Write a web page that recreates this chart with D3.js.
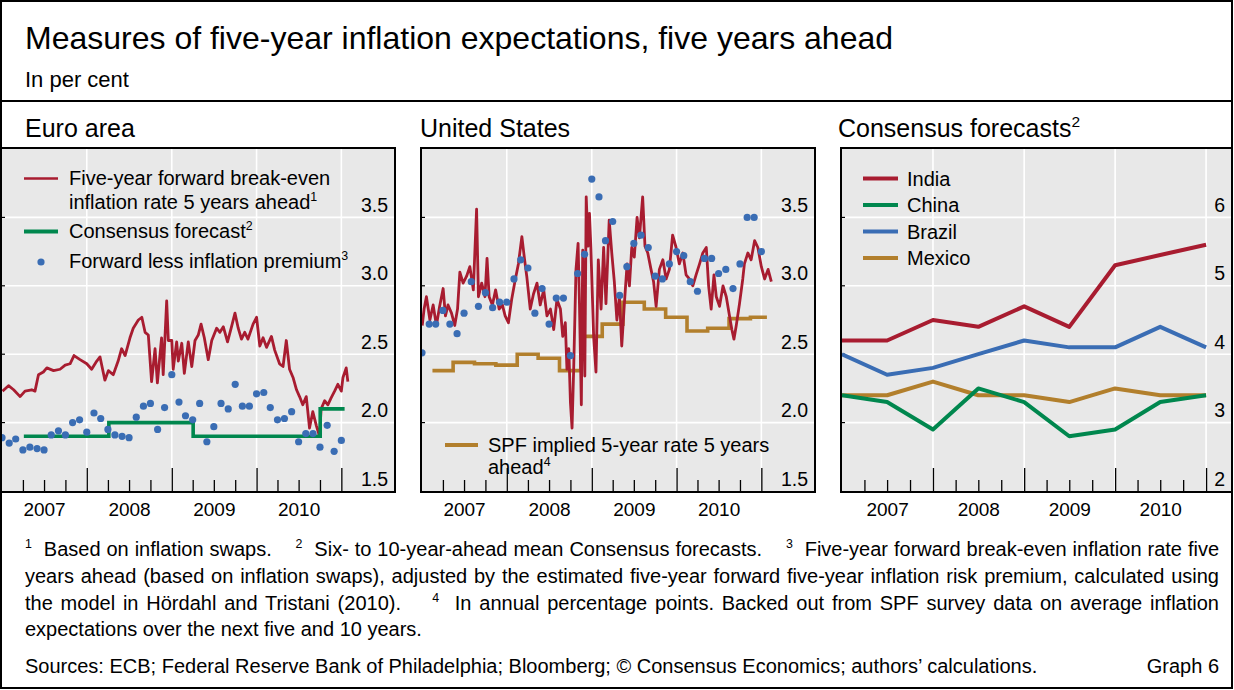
<!DOCTYPE html>
<html>
<head>
<meta charset="utf-8">
<script src="https://cdn.jsdelivr.net/npm/d3@7"></script>
<style>
  body { margin: 0; background: #fff; }
  svg { display: block; font-family: "Liberation Sans", Arial, Helvetica, sans-serif; }
</style>
</head>
<body>
<div id="chart"></div>
<script>
// ---- data ----
// Euro area: five-year forward break-even rate 5 years ahead (sampled)
const euroBreakeven = [
  ["2007-01-03",2.23],["2007-01-29",2.27],["2007-02-20",2.24],["2007-03-20",2.19],["2007-04-10",2.23],
  ["2007-05-09",2.24],["2007-05-23",2.23],["2007-06-07",2.35],["2007-06-28",2.37],["2007-07-13",2.40],
  ["2007-08-11",2.38],["2007-09-08",2.39],["2007-09-30",2.42],["2007-10-21",2.43],["2007-11-07",2.49],
  ["2007-12-03",2.46],["2008-01-01",2.43],["2008-01-22",2.39],["2008-02-13",2.45],["2008-02-27",2.48],
  ["2008-03-19",2.31],["2008-04-03",2.38],["2008-04-24",2.35],["2008-05-15",2.45],["2008-05-30",2.54],
  ["2008-06-14",2.49],["2008-07-05",2.62],["2008-07-19",2.69],["2008-08-10",2.75],["2008-08-25",2.77],
  ["2008-09-08",2.66],["2008-09-22",2.64],["2008-10-06",2.30],["2008-10-21",2.54],["2008-10-31",2.29],
  ["2008-11-18",2.62],["2008-11-25",2.35],["2008-12-10",2.89],["2008-12-17",2.60],["2009-01-01",2.60],
  ["2009-01-07",2.39],["2009-01-22",2.59],["2009-01-29",2.45],["2009-02-13",2.58],["2009-02-24",2.36],
  ["2009-03-13",2.59],["2009-03-28",2.41],["2009-04-11",2.60],["2009-04-25",2.64],["2009-05-07",2.72],
  ["2009-05-21",2.62],["2009-06-07",2.46],["2009-06-22",2.60],["2009-07-13",2.69],["2009-07-27",2.66],
  ["2009-08-11",2.70],["2009-08-29",2.59],["2009-09-15",2.70],["2009-09-30",2.80],["2009-10-14",2.69],
  ["2009-10-28",2.61],["2009-11-11",2.66],["2009-11-25",2.61],["2009-12-17",2.72],["2010-01-01",2.77],
  ["2010-01-15",2.56],["2010-01-29",2.62],["2010-02-13",2.55],["2010-03-06",2.63],["2010-03-20",2.53],
  ["2010-04-10",2.43],["2010-04-25",2.41],["2010-05-09",2.60],["2010-05-23",2.39],["2010-06-07",2.33],
  ["2010-06-22",2.24],["2010-07-05",2.19],["2010-07-19",2.13],["2010-08-03",2.19],["2010-08-17",1.96],
  ["2010-08-31",2.08],["2010-09-15",1.98],["2010-09-29",1.90],["2010-10-06",2.10],["2010-10-21",2.16],
  ["2010-11-04",2.13],["2010-11-18",2.18],["2010-12-03",2.23],["2010-12-17",2.28],["2011-01-01",2.23],
  ["2011-01-08",2.33],["2011-01-22",2.40],["2011-01-29",2.30]
];
// Euro area: Consensus forecast (step, April / October)
const euroConsensus = [
  ["2007-04-05",1.90],["2007-10-01",1.90],["2008-04-05",2.00],["2008-10-01",2.00],["2009-04-03",1.90],
  ["2009-10-01",1.90],["2010-04-01",1.90],["2010-10-02",2.10],["2011-01-15",2.10]
];
// Euro area: forward less inflation premium, monthly from Jan 2007
const euroPremium = [
  1.89,1.85,1.88,1.80,1.82,1.81,1.80,1.91,1.94,1.91,2.00,2.02,
  1.93,2.07,2.03,1.95,1.91,1.90,1.89,2.04,2.12,2.14,1.95,2.11,
  2.35,2.15,2.05,2.02,2.14,1.86,1.97,2.14,2.10,2.28,2.12,2.12,
  2.21,2.22,2.11,2.02,2.03,2.08,1.86,1.92,1.92,1.82,1.98,1.79,1.87
];

// United States: five-year forward break-even rate 5 years ahead (sampled)
const usBreakeven = [
  ["2007-01-02",2.71],["2007-01-10",2.83],["2007-01-20",2.92],["2007-02-04",2.75],["2007-02-18",2.86],
  ["2007-03-04",2.71],["2007-03-18",2.85],["2007-04-02",2.98],["2007-04-12",2.78],["2007-04-23",2.86],
  ["2007-05-08",2.80],["2007-05-22",2.71],["2007-06-03",2.83],["2007-06-13",3.10],["2007-06-27",3.02],
  ["2007-07-12",3.07],["2007-07-26",3.14],["2007-08-10",2.97],["2007-08-24",3.56],["2007-09-01",2.92],
  ["2007-09-15",3.02],["2007-09-29",2.92],["2007-10-08",3.20],["2007-10-17",2.92],["2007-10-31",2.86],
  ["2007-11-14",2.97],["2007-11-29",2.83],["2007-12-13",2.86],["2007-12-25",2.78],["2008-01-08",2.73],
  ["2008-01-22",2.90],["2008-02-06",3.04],["2008-02-20",3.16],["2008-03-06",3.36],["2008-03-17",3.20],
  ["2008-03-27",3.07],["2008-04-11",2.83],["2008-04-25",2.94],["2008-05-10",3.02],["2008-05-24",2.86],
  ["2008-06-08",2.97],["2008-06-22",2.78],["2008-07-07",2.83],["2008-07-21",2.68],["2008-08-04",2.90],
  ["2008-08-19",2.83],["2008-08-29",2.63],["2008-09-09",2.73],["2008-09-16",2.39],["2008-09-24",2.54],
  ["2008-10-01",2.15],["2008-10-08",1.96],["2008-10-15",2.39],["2008-10-25",3.12],["2008-11-03",3.31],
  ["2008-11-09",2.86],["2008-11-17",2.13],["2008-11-23",3.26],["2008-12-02",2.34],["2008-12-08",3.65],
  ["2008-12-16",3.29],["2008-12-22",3.53],["2008-12-28",3.28],["2009-01-09",2.63],["2009-01-19",2.37],
  ["2009-01-29",3.19],["2009-02-10",2.83],["2009-02-21",3.28],["2009-03-03",2.87],["2009-03-17",3.48],
  ["2009-03-28",3.24],["2009-04-08",3.03],["2009-04-19",2.75],["2009-04-30",2.92],["2009-05-10",2.56],
  ["2009-05-21",2.86],["2009-06-02",3.16],["2009-06-12",3.00],["2009-06-22",3.28],["2009-07-03",3.21],
  ["2009-07-15",3.50],["2009-07-25",3.35],["2009-08-08",3.65],["2009-08-18",3.29],["2009-08-30",3.24],
  ["2009-09-13",3.12],["2009-09-24",3.03],["2009-10-05",2.85],["2009-10-19",3.12],["2009-11-03",3.19],
  ["2009-11-17",3.05],["2009-12-01",3.12],["2009-12-15",3.37],["2009-12-30",3.28],["2010-01-13",3.16],
  ["2010-01-28",3.24],["2010-02-11",3.08],["2010-02-25",3.05],["2010-03-12",3.00],["2010-03-26",3.08],
  ["2010-04-10",3.16],["2010-04-24",3.24],["2010-05-09",3.28],["2010-05-19",3.00],["2010-05-30",2.83],
  ["2010-06-11",3.08],["2010-06-21",2.92],["2010-07-05",2.85],["2010-07-20",3.00],["2010-08-03",2.92],
  ["2010-08-17",2.78],["2010-08-27",2.68],["2010-09-05",2.61],["2010-09-15",2.71],["2010-09-29",2.87],
  ["2010-10-13",3.05],["2010-10-20",3.16],["2010-11-04",3.24],["2010-11-18",3.19],["2010-12-03",3.33],
  ["2010-12-17",3.28],["2011-01-01",3.14],["2011-01-15",3.05],["2011-01-30",3.12],["2011-02-13",3.03]
];
// United States: SPF implied 5-year rate 5 years ahead (quarterly step)
const usSPF = [
  ["2007-02-15",2.38],["2007-05-15",2.44],["2007-08-15",2.43],["2007-11-15",2.42],
  ["2008-02-15",2.50],["2008-05-15",2.47],["2008-08-15",2.38],["2008-11-15",2.63],
  ["2009-02-15",2.72],["2009-05-15",2.88],["2009-08-15",2.83],["2009-11-15",2.77],
  ["2010-02-15",2.67],["2010-05-15",2.69],["2010-08-15",2.76],["2010-11-15",2.77],["2011-01-25",2.77]
];
// United States: forward less inflation premium, monthly from Jan 2007
const usPremium = [
  2.51,2.72,2.72,2.82,2.72,2.65,2.80,3.03,2.85,2.95,2.84,2.88,
  2.88,3.05,3.19,3.13,2.80,2.98,2.72,2.91,2.91,2.49,3.09,3.23,
  3.78,3.65,3.33,3.47,2.93,3.14,3.31,3.37,3.28,3.07,3.05,3.16,
  3.25,3.22,3.03,2.96,3.20,3.20,3.09,3.12,2.98,3.16,3.50,3.50,3.25
];
const premiumStart = "2007-01-01";

// Consensus forecasts (semi-annual)
const cfDates  = ["2007-01-01","2007-07-01","2008-01-01","2008-07-01","2009-01-01","2009-07-01","2010-01-01","2010-07-01","2011-01-01"];
const cfIndia  = [4.2, 4.2, 4.5, 4.4, 4.7, 4.4, 5.3, 5.45, 5.6];
const cfChina  = [3.4, 3.3, 2.9, 3.5, 3.3, 2.8, 2.9, 3.3, 3.4];
const cfBrazil = [4.0, 3.7, 3.8, 4.0, 4.2, 4.1, 4.1, 4.4, 4.1];
const cfMexico = [3.4, 3.4, 3.6, 3.4, 3.4, 3.3, 3.5, 3.4, 3.4];

const yTicksRate = [1.5, 2.0, 2.5, 3.0, 3.5];
const yTicksCF = [2, 3, 4, 5, 6];
const yearLabels = ["2007", "2008", "2009", "2010"];

// ---- styling ----
const RED = "#a81c30", GREEN = "#00874e", BLUE = "#3a6db4", GOLD = "#b27f2c", BG = "#e8e8e8";
const W = 1234, H = 690, TOP = 148, BOT = 492;
const parse = d3.timeParse("%Y-%m-%d");

const svg = d3.select("#chart").append("svg").attr("width", W).attr("height", H);

// text with superscript parts ("^" prefix)
function richText(parent, x, y, parts, size, anchor) {
  const t = parent.append("text")
    .attr("x", x).attr("y", y)
    .attr("font-size", size)
    .attr("text-anchor", anchor || "start")
    .attr("fill", "#000")
    .attr("xml:space", "preserve")
    .style("white-space", "pre");
  let raised = false;
  parts.forEach(p => {
    const sup = p.startsWith("^");
    const s = t.append("tspan").text(sup ? p.slice(1) : p);
    if (sup) {
      s.attr("font-size", size * 0.62).attr("dy", -size * 0.42);
      raised = true;
    } else if (raised) {
      s.attr("dy", size * 0.42);
      raised = false;
    }
  });
  return t;
}

function makePanel(cfg, draw) {
  const g = svg.append("g");
  const x = d3.scaleTime().domain(cfg.xDomain.map(parse)).range([cfg.left + 1, cfg.right]);
  const y = d3.scaleLinear().domain(cfg.yDomain).range([BOT - 1, TOP + 1]);

  g.append("rect")
    .attr("x", cfg.left).attr("y", TOP)
    .attr("width", cfg.right - cfg.left).attr("height", BOT - TOP)
    .attr("fill", BG);

  // white grid
  g.selectAll(".hgrid").data(cfg.yTicks.slice(1)).join("line")
    .attr("x1", cfg.left).attr("x2", cfg.right)
    .attr("y1", d => y(d)).attr("y2", d => y(d))
    .attr("stroke", "#fff").attr("stroke-width", 1.6);
  const yearStarts = d3.timeYear.range(parse("2008-01-01"), parse("2011-01-02"));
  g.selectAll(".vgrid").data(yearStarts).join("line")
    .attr("x1", d => x(d)).attr("x2", d => x(d))
    .attr("y1", TOP).attr("y2", BOT)
    .attr("stroke", "#fff").attr("stroke-width", 1.6);

  // short ticks on the left edge
  g.selectAll(".lt").data(cfg.yTicks.slice(1)).join("line")
    .attr("x1", cfg.left).attr("x2", cfg.left + 4)
    .attr("y1", d => y(d)).attr("y2", d => y(d))
    .attr("stroke", "#000").attr("stroke-width", 1.2);

  // y labels inside, right side
  const ya = g.append("g")
    .attr("transform", `translate(${cfg.right - 7},0)`)
    .call(d3.axisLeft(y).tickValues(cfg.yTicks).tickSize(0).tickPadding(0).tickFormat(cfg.fmt));
  ya.select(".domain").remove();
  ya.attr("font-family", null).attr("font-size", null);
  ya.selectAll("text").attr("dy", -6).attr("font-size", 19.5).attr("fill", "#000");

  const clipId = "clip-" + cfg.name;
  svg.append("clipPath").attr("id", clipId).append("rect")
    .attr("x", cfg.left + 1).attr("y", TOP + 1)
    .attr("width", cfg.right - cfg.left - 2).attr("height", BOT - TOP - 2);
  const plot = g.append("g").attr("clip-path", `url(#${clipId})`);

  draw(plot, x, y);

  // quarterly ticks, rising from bottom edge
  const quarters = d3.timeMonth.every(3).range(parse("2007-04-01"), parse("2011-01-02"));
  const minor = quarters.filter(d => d.getMonth() !== 0);
  const major = quarters.filter(d => d.getMonth() === 0);
  [[minor, 11], [major, 23]].forEach(([vals, len]) => {
    const ax = g.append("g")
      .attr("transform", `translate(0,${BOT - 1})`)
      .call(d3.axisTop(x).tickValues(vals).tickSize(len).tickFormat(""));
    ax.select(".domain").remove();
    ax.selectAll("line").attr("stroke", "#000").attr("stroke-width", 1.3);
  });

  // year labels centred mid-year
  const xa = g.append("g")
    .attr("transform", `translate(0,${BOT})`)
    .call(d3.axisBottom(x)
      .tickValues(yearLabels.map(yr => parse(yr + "-07-01")))
      .tickSize(0).tickPadding(11)
      .tickFormat(d3.timeFormat("%Y")));
  xa.select(".domain").remove();
  xa.attr("font-family", null).attr("font-size", null);
  xa.selectAll("text").attr("font-size", 19).attr("fill", "#000");

  // frame
  g.append("rect")
    .attr("x", cfg.left).attr("y", TOP)
    .attr("width", cfg.right - cfg.left).attr("height", BOT - TOP)
    .attr("fill", "none").attr("stroke", "#000").attr("stroke-width", 2);

  return g;
}

const fmt1 = d3.format(".1f");
const monthOf = i => d3.timeMonth.offset(parse(premiumStart), i);

// ---- Euro area ----
makePanel({ name: "ea", left: 1, right: 395, xDomain: ["2007-01-01", "2011-08-20"],
            yDomain: [1.5, 4.0], yTicks: yTicksRate, fmt: fmt1 }, (p, x, y) => {
  p.append("path").datum(euroBreakeven)
    .attr("d", d3.line().x(d => x(parse(d[0]))).y(d => y(d[1])))
    .attr("fill", "none").attr("stroke", RED).attr("stroke-width", 2.8).attr("stroke-linejoin", "round");
  p.append("path").datum(euroConsensus)
    .attr("d", d3.line().curve(d3.curveStepAfter).x(d => x(parse(d[0]))).y(d => y(d[1])))
    .attr("fill", "none").attr("stroke", GREEN).attr("stroke-width", 3.6);
  p.selectAll(".dot").data(euroPremium).join("circle")
    .attr("cx", (d, i) => x(monthOf(i))).attr("cy", d => y(d))
    .attr("r", 3.6).attr("fill", BLUE);
});

// ---- United States ----
makePanel({ name: "us", left: 421, right: 815, xDomain: ["2007-01-01", "2011-08-20"],
            yDomain: [1.5, 4.0], yTicks: yTicksRate, fmt: fmt1 }, (p, x, y) => {
  p.append("path").datum(usSPF)
    .attr("d", d3.line().curve(d3.curveStepAfter).x(d => x(parse(d[0]))).y(d => y(d[1])))
    .attr("fill", "none").attr("stroke", GOLD).attr("stroke-width", 3.6);
  p.append("path").datum(usBreakeven)
    .attr("d", d3.line().x(d => x(parse(d[0]))).y(d => y(d[1])))
    .attr("fill", "none").attr("stroke", RED).attr("stroke-width", 2.8).attr("stroke-linejoin", "round");
  p.selectAll(".dot").data(usPremium).join("circle")
    .attr("cx", (d, i) => x(monthOf(i))).attr("cy", d => y(d))
    .attr("r", 3.6).attr("fill", BLUE);
});

// ---- Consensus forecasts ----
const cfSeries = [
  { name: "India", values: cfIndia, color: RED },
  { name: "Brazil", values: cfBrazil, color: BLUE },
  { name: "Mexico", values: cfMexico, color: GOLD },
  { name: "China", values: cfChina, color: GREEN }
];
makePanel({ name: "cf", left: 841, right: 1232, xDomain: ["2007-01-01", "2011-04-15"],
            yDomain: [2, 7], yTicks: yTicksCF, fmt: d3.format("d") }, (p, x, y) => {
  cfSeries.forEach(s => {
    p.append("path").datum(s.values)
      .attr("d", d3.line().x((d, i) => x(parse(cfDates[i]))).y(d => y(d)))
      .attr("fill", "none").attr("stroke", s.color).attr("stroke-width", 4).attr("stroke-linejoin", "round");
  });
});

// ---- legends ----
const lg = svg.append("g");
function legLine(x1, x2, yy, color, w) {
  lg.append("line").attr("x1", x1).attr("x2", x2).attr("y1", yy).attr("y2", yy)
    .attr("stroke", color).attr("stroke-width", w);
}
legLine(24, 58, 178.5, RED, 2.6);
richText(lg, 69, 185, ["Five-year forward break-even"], 20);
richText(lg, 69, 209, ["inflation rate 5 years ahead", "^1"], 20);
legLine(24, 58, 231.5, GREEN, 4);
richText(lg, 69, 238, ["Consensus forecast", "^2"], 20);
lg.append("circle").attr("cx", 41).attr("cy", 262).attr("r", 3.6).attr("fill", BLUE);
richText(lg, 69, 268, ["Forward less inflation premium", "^3"], 20);

legLine(445, 478, 445, GOLD, 4);
richText(lg, 488, 451.5, ["SPF implied 5-year rate 5 years"], 20);
richText(lg, 488, 474, ["ahead", "^4"], 20);

[["India", RED, 178.5], ["China", GREEN, 205], ["Brazil", BLUE, 231.5], ["Mexico", GOLD, 258]].forEach(([n, c, yy]) => {
  legLine(863, 898, yy, c, 4);
  richText(lg, 907, yy + 7, [n], 20);
});

// ---- titles ----
richText(svg, 25, 49, ["Measures of five-year inflation expectations, five years ahead"], 32);
richText(svg, 25, 87, ["In per cent"], 22);
richText(svg, 25, 137, ["Euro area"], 25);
richText(svg, 420, 137, ["United States"], 25);
richText(svg, 838, 137, ["Consensus forecasts", "^2"], 25);

// ---- footnotes ----
const fs = 20, left = 25, right = 1219;
const notes = [
  { y: 556, just: true, parts: ["^1", "  Based on inflation swaps.    ", "^2", "  Six- to 10-year-ahead mean Consensus forecasts.    ", "^3", "  Five-year forward break-even inflation rate five"] },
  { y: 583, just: true, parts: ["years ahead (based on inflation swaps), adjusted by the estimated five-year forward five-year inflation risk premium, calculated using"] },
  { y: 610, just: true, parts: ["the model in Hördahl and Tristani (2010).    ", "^4", "  In annual percentage points. Backed out from SPF survey data on average inflation"] },
  { y: 636, just: false, parts: ["expectations over the next five and 10 years."] }
];
notes.forEach(n => {
  const t = richText(svg, left, n.y, n.parts, fs);
  if (n.just) {
    const natural = t.node().getComputedTextLength();
    const spaces = n.parts.join("").split(" ").length - 1;
    t.attr("word-spacing", (right - left - natural) / spaces);
  }
});
richText(svg, left, 673, ["Sources: ECB; Federal Reserve Bank of Philadelphia; Bloomberg; © Consensus Economics; authors’ calculations."], fs);
richText(svg, right, 673, ["Graph 6"], fs, "end");

// ---- outer frame ----
svg.append("line").attr("x1", 1).attr("x2", W - 2).attr("y1", 101).attr("y2", 101)
  .attr("stroke", "#000").attr("stroke-width", 2);
svg.append("rect").attr("x", 1).attr("y", 1).attr("width", W - 3).attr("height", H - 3)
  .attr("fill", "none").attr("stroke", "#000").attr("stroke-width", 2);
</script>
</body>
</html>
